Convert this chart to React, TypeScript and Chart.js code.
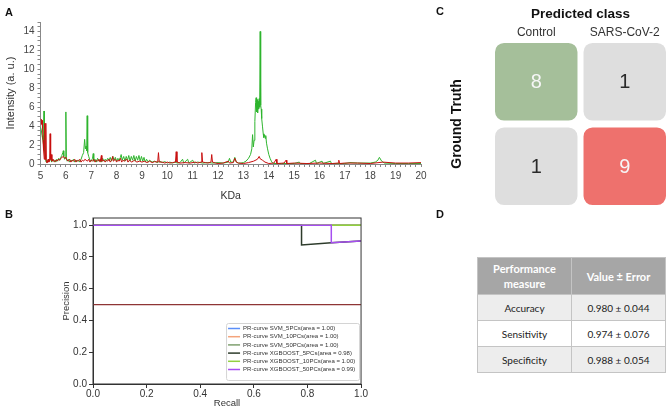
import React, { useEffect, useRef } from 'react';
import { Chart, registerables } from 'chart.js';

Chart.register(...registerables);
Chart.defaults.font.family = '"Liberation Sans", Arial, sans-serif';

// ---------------- Panel A: spectra ----------------
const kdaTickLabels = [5, 6, 7, 8, 9, 10, 11, 12, 13, 14, 15, 16, 17, 18, 19, 20];
const intensityTickLabels = [0, 2, 4, 6, 8, 10, 12, 14];

const controlKDa = [
  5.0, 5.03, 5.06, 5.09, 5.12, 5.14, 5.15, 5.18, 5.2, 5.22, 5.25, 5.28, 5.32, 5.36, 5.4, 5.44, 5.48, 5.52, 5.56, 5.6,
  5.64, 5.68, 5.72, 5.76, 5.8, 5.84, 5.88, 5.9, 5.92, 5.95, 5.98, 6.0, 6.02, 6.05, 6.1, 6.15, 6.2, 6.25, 6.3, 6.35,
  6.4, 6.45, 6.5, 6.55, 6.6, 6.65, 6.7, 6.74, 6.77, 6.8, 6.82, 6.84, 6.86, 6.9, 6.95, 7.0, 7.05, 7.08, 7.1, 7.15,
  7.2, 7.25, 7.3, 7.35, 7.4, 7.45, 7.5, 7.55, 7.6, 7.65, 7.7, 7.75, 7.8, 7.85, 7.9, 7.95, 8.0, 8.05, 8.1, 8.15,
  8.18, 8.22, 8.28, 8.33, 8.38, 8.43, 8.48, 8.53, 8.58, 8.63, 8.68, 8.73, 8.78, 8.83, 8.88, 8.93, 8.98, 9.03, 9.08, 9.13,
  9.18, 9.25, 9.3, 9.4, 9.5, 9.6, 9.7, 9.8, 9.9, 10.0, 10.1, 10.2, 10.3, 10.4, 10.5, 10.6, 10.65, 10.8, 10.85, 11.0,
  11.05, 11.2, 11.4, 11.6, 11.8, 12.0, 12.2, 12.4, 12.45, 12.5, 12.6, 12.66, 12.72, 12.8, 12.9, 13.0, 13.1, 13.2, 13.28, 13.33,
  13.36, 13.39, 13.42, 13.45, 13.48, 13.5, 13.52, 13.54, 13.56, 13.58, 13.6, 13.62, 13.64, 13.66, 13.68, 13.7, 13.72, 13.75, 13.78, 13.8,
  13.83, 13.86, 13.88, 13.91, 13.95, 14.0, 14.05, 14.1, 14.15, 14.2, 14.5, 14.8, 15.0, 15.2, 15.25, 15.6, 15.84, 15.88, 16.1, 16.14,
  16.43, 16.47, 17.0, 17.2, 17.5, 18.0, 18.2, 18.3, 18.36, 18.45, 18.55, 19.0, 19.5, 20.0
];
const controlIntensity = [
  3.9, 3.6, 3.0, 2.6, 2.0, 5.6, 1.6, 1.0, 0.5, 0.2, 0.4, 0.2, 0.5, 0.3, 0.6, 0.2, 0.5, 0.3, 0.4, 0.2,
  0.5, 0.3, 0.6, 0.4, 0.7, 0.9, 1.2, 1.4, 0.8, 0.5, 0.6, 5.5, 0.6, 0.3, 0.5, 0.2, 0.4, 0.3, 0.5, 0.2,
  0.4, 0.3, 0.4, 0.2, 0.5, 0.9, 1.2, 2.6, 1.6, 1.9, 1.4, 5.1, 1.2, 0.8, 0.4, 0.3, 0.6, 1.1, 0.3, 0.5,
  0.2, 0.6, 0.3, 0.5, 0.2, 0.6, 0.3, 0.5, 0.3, 0.6, 0.4, 0.7, 0.3, 0.8, 0.4, 0.7, 0.3, 0.6, 0.4, 0.7,
  1.0, 0.4, 0.8, 0.3, 0.8, 0.4, 0.9, 0.3, 0.8, 0.4, 0.9, 0.3, 0.8, 0.4, 0.9, 0.3, 0.8, 0.3, 0.7, 0.2,
  0.5, 0.2, 0.4, 0.2, 0.3, 0.15, 0.3, 0.15, 0.25, 0.1, 0.2, 0.1, 0.2, 0.1, 0.15, 0.5, 0.1, 0.5, 0.1, 0.4,
  0.1, 0.2, 0.1, 0.15, 0.1, 0.15, 0.1, 0.2, 0.6, 0.2, 0.2, 0.7, 0.2, 0.1, 0.1, 0.15, 0.3, 0.6, 1.0, 1.6,
  3.1, 1.8, 2.5, 4.5, 6.5, 7.0, 5.5, 6.8, 5.4, 6.6, 5.8, 6.9, 6.0, 14.0, 6.2, 5.8, 4.8, 4.0, 3.2, 2.8,
  3.1, 2.7, 3.0, 2.2, 1.6, 1.0, 0.6, 0.3, 0.1, 0.05, 0.05, 0.05, 0.05, 0.2, 0.05, 0.05, 0.4, 0.05, 0.3, 0.05,
  0.3, 0.05, 0.05, 0.15, 0.1, 0.1, 0.2, 0.4, 0.7, 0.3, 0.1, 0.05, 0.05, 0.05
];

const covidKDa = [
  5.0, 5.02, 5.04, 5.06, 5.08, 5.1, 5.12, 5.15, 5.17, 5.19, 5.21, 5.23, 5.26, 5.3, 5.33, 5.36, 5.38, 5.4, 5.42, 5.45,
  5.5, 5.55, 5.6, 5.65, 5.7, 5.75, 5.8, 5.85, 5.9, 5.95, 6.0, 6.05, 6.1, 6.15, 6.2, 6.25, 6.3, 6.35, 6.4, 6.45,
  6.5, 6.55, 6.6, 6.65, 6.7, 6.75, 6.8, 6.85, 6.9, 6.95, 7.0, 7.05, 7.1, 7.15, 7.2, 7.25, 7.3, 7.35, 7.4, 7.42,
  7.5, 7.55, 7.6, 7.65, 7.7, 7.75, 7.8, 7.85, 7.87, 7.95, 8.0, 8.05, 8.1, 8.15, 8.2, 8.25, 8.3, 8.4, 8.45, 8.5,
  8.6, 8.7, 8.8, 8.9, 9.0, 9.1, 9.2, 9.3, 9.4, 9.5, 9.62, 9.65, 9.68, 9.8, 9.9, 10.0, 10.1, 10.2, 10.32, 10.35,
  10.38, 10.5, 10.7, 10.9, 11.1, 11.2, 11.33, 11.36, 11.39, 11.5, 11.6, 11.72, 11.75, 11.78, 11.9, 12.0, 12.2, 12.4, 12.45, 12.6,
  12.66, 12.72, 12.8, 13.0, 13.2, 13.4, 13.55, 13.62, 13.66, 13.75, 13.85, 14.0, 14.2, 14.29, 14.32, 14.6, 14.68, 14.71, 15.0, 15.5,
  16.0, 16.5, 16.73, 16.76, 16.79, 17.0, 17.5, 18.0, 18.5, 19.0, 19.5, 20.0
];
const covidIntensity = [
  4.8, 4.7, 4.2, 4.6, 3.8, 2.5, 1.5, 0.5, 4.3, 0.5, 4.3, 0.3, 0.1, 0.5, 0.2, 0.4, 3.2, 0.5, 1.0, 0.3,
  0.5, 0.2, 0.4, 0.3, 0.5, 0.4, 0.6, 0.7, 0.8, 0.6, 0.7, 0.4, 0.3, 0.5, 0.2, 0.4, 0.3, 0.5, 0.2, 0.4,
  0.3, 0.5, 0.2, 0.4, 0.3, 0.5, 0.4, 0.3, 0.5, 0.2, 0.4, 0.3, 0.5, 0.2, 0.4, 0.3, 0.5, 0.2, 0.9, 0.3,
  0.4, 0.2, 0.4, 0.3, 0.5, 0.2, 0.4, 0.8, 0.3, 0.5, 0.2, 0.4, 0.3, 0.6, 0.2, 0.4, 0.3, 0.5, 0.2, 0.4,
  0.2, 0.4, 0.2, 0.3, 0.2, 0.3, 0.15, 0.3, 0.15, 0.25, 0.2, 1.2, 0.2, 0.2, 0.1, 0.2, 0.1, 0.15, 0.2, 1.3,
  0.2, 0.1, 0.15, 0.1, 0.2, 0.1, 0.2, 1.2, 0.2, 0.15, 0.1, 0.2, 1.0, 0.2, 0.1, 0.05, 0.1, 0.3, 0.1, 0.15,
  0.6, 0.2, 0.1, 0.05, 0.15, 0.3, 0.5, 0.8, 0.55, 0.4, 0.2, 0.05, 0.1, 0.5, 0.05, 0.1, 0.4, 0.05, 0.1, 0.05,
  0.1, 0.05, 0.1, 0.4, 0.05, 0.1, 0.1, 0.05, 0.2, 0.1, 0.1, 0.15
];

// ---------------- Panel B: precision-recall ----------------
const recallTickLabels = [0, 0.2, 0.4, 0.6, 0.8, 1.0];
const precisionTickLabels = [0, 0.2, 0.4, 0.6, 0.8, 1.0];
const prLabels = [
  'PR-curve SVM_5PCs(area = 1.00)',
  'PR-curve SVM_10PCs(area = 1.00)',
  'PR-curve SVM_50PCs(area = 1.00)',
  'PR-curve XGBOOST_5PCs(area = 0.98)',
  'PR-curve XGBOOST_10PCs(area = 1.00)',
  'PR-curve XGBOOST_50PCs(area = 0.99)',
];
const recallSvm5 = [0, 1];
const precisionSvm5 = [1, 1];
const recallSvm10 = [0, 1];
const precisionSvm10 = [1, 1];
const recallSvm50 = [0, 1];
const precisionSvm50 = [1, 1];
const recallXgb5 = [0, 0.778, 0.778, 0.889, 1];
const precisionXgb5 = [1, 1, 0.875, 0.889, 0.9];
const recallXgb10 = [0, 1];
const precisionXgb10 = [1, 1];
const recallXgb50 = [0, 0.889, 0.889, 1];
const precisionXgb50 = [1, 1, 0.889, 0.9];
const recallBaseline = [0, 1];
const precisionBaseline = [0.5, 0.5];

// ---------------- Panel C: confusion matrix ----------------
const predictedClasses = ['Control', 'SARS-CoV-2'];
const truthClasses = ['Control', 'SARS-CoV-2'];
const confusionCounts = [
  [8, 1],
  [1, 9],
];

// ---------------- Panel D: table ----------------
const measureNames = ['Accuracy', 'Sensitivity', 'Specificity'];
const measureValues = ['0.980 ± 0.044', '0.974 ± 0.076', '0.988 ± 0.054'];

const pts = (xs: number[], ys: number[]) => xs.map((x, i) => ({ x, y: ys[i] }));

function ChartBox({ left, top, width, height, build }: any) {
  const ref = useRef<HTMLCanvasElement>(null);
  useEffect(() => {
    const chart = new Chart(ref.current as HTMLCanvasElement, build());
    return () => chart.destroy();
  }, []);
  return (
    <div style={{ position: 'absolute', left, top, width, height }}>
      <canvas ref={ref} width={width} height={height} style={{ width, height, display: 'block' }} />
    </div>
  );
}

function spectrumConfig(): any {
  return {
    type: 'line',
    data: {
      datasets: [
        { label: 'SARS-CoV-2', data: pts(covidKDa, covidIntensity), borderColor: '#c80f0f', borderWidth: 1, pointRadius: 0, order: 0 },
        { label: 'Control', data: pts(controlKDa, controlIntensity), borderColor: '#2fb52f', borderWidth: 1, pointRadius: 0, order: 1 },
      ],
    },
    options: {
      animation: false,
      responsive: false,
      devicePixelRatio: 1,
      layout: { padding: { top: 22, right: 9, left: 0, bottom: 0 } },
      plugins: { legend: { display: false }, tooltip: { enabled: false } },
      scales: {
        x: {
          type: 'linear', min: 5, max: 20,
          afterBuildTicks: (s: any) => {
            const t: any[] = [];
            for (let i = 0; i < kdaTickLabels.length - 1; i++) {
              const a = kdaTickLabels[i], b = kdaTickLabels[i + 1];
              for (let k = 0; k < 5; k++) t.push({ value: a + (k * (b - a)) / 5 });
            }
            t.push({ value: kdaTickLabels[kdaTickLabels.length - 1] });
            s.ticks = t;
          },
          afterFit: (s: any) => { s.height = 41; },
          ticks: { autoSkip: false, maxRotation: 0, color: '#444', font: { size: 10 }, padding: 3,
            callback: (v: number) => (kdaTickLabels.includes(v) ? String(v) : '') },
          grid: { drawOnChartArea: false, tickLength: 3, color: '#888' },
          border: { color: '#888' },
          title: { display: true, text: 'KDa', color: '#333', font: { size: 10.5 }, padding: { top: 0, bottom: 3 } },
        },
        y: {
          type: 'linear', min: 0, max: 15,
          afterBuildTicks: (s: any) => {
            const t: any[] = [];
            for (let i = 0; i < intensityTickLabels.length - 1; i++) {
              const a = intensityTickLabels[i], b = intensityTickLabels[i + 1];
              for (let k = 0; k < 4; k++) t.push({ value: a + (k * (b - a)) / 4 });
            }
            t.push({ value: 14 }, { value: 14.5 }, { value: 15 });
            s.ticks = t;
          },
          afterFit: (s: any) => { s.width = 40.5; },
          ticks: { autoSkip: false, color: '#444', font: { size: 10 }, padding: 3,
            callback: (v: number) => (intensityTickLabels.includes(v) ? String(v) : '') },
          grid: { drawOnChartArea: false, tickLength: 3, color: '#888' },
          border: { color: '#888' },
          title: { display: true, text: 'Intensity (a. u.)', color: '#333', font: { size: 11 }, padding: { top: 4, bottom: 0 } },
        },
      },
    },
  };
}

const prColors = ['#5b8ff9', '#f4a47c', '#7fa06f', '#2d3b2b', '#92d040', '#a64ff0'];

const prLegendPlugin = {
  id: 'prLegend',
  afterDraw(chart: any) {
    const { ctx, chartArea } = chart;
    ctx.save();
    ctx.strokeStyle = '#333';
    ctx.lineWidth = 1;
    ctx.strokeRect(chartArea.left, chartArea.top, chartArea.right - chartArea.left, chartArea.bottom - chartArea.top);
    const w = 133, h = 57;
    const x0 = chartArea.right - 2 - w, y0 = chartArea.bottom - 4 - h;
    ctx.fillStyle = 'rgba(255,255,255,0.85)';
    ctx.strokeStyle = '#d4d4d4';
    ctx.beginPath();
    ctx.roundRect(x0 + 0.5, y0 + 0.5, w, h, 2);
    ctx.fill();
    ctx.stroke();
    ctx.font = '6px "Liberation Sans", Arial, sans-serif';
    ctx.textBaseline = 'middle';
    prLabels.forEach((label, i) => {
      const y = y0 + 5.5 + i * 8.2;
      ctx.strokeStyle = prColors[i];
      ctx.lineWidth = 1.5;
      ctx.beginPath();
      ctx.moveTo(x0 + 2, y);
      ctx.lineTo(x0 + 14, y);
      ctx.stroke();
      ctx.fillStyle = '#333';
      ctx.fillText(label, x0 + 17, y);
    });
    ctx.restore();
  },
};

function prConfig(): any {
  const recalls = [recallSvm5, recallSvm10, recallSvm50, recallXgb5, recallXgb10, recallXgb50];
  const precisions = [precisionSvm5, precisionSvm10, precisionSvm50, precisionXgb5, precisionXgb10, precisionXgb50];
  const drawOrder = [5, 4, 3, 2, 1, 0];
  const datasets: any[] = prLabels.map((label, i) => ({
    label,
    data: pts(recalls[i], precisions[i]),
    borderColor: prColors[i],
    borderWidth: 1.5,
    pointRadius: 0,
    order: drawOrder[i],
  }));
  datasets.push({ label: 'baseline', data: pts(recallBaseline, precisionBaseline), borderColor: '#8e3535', borderWidth: 1.3, pointRadius: 0, order: 6 });
  return {
    type: 'line',
    data: { datasets },
    plugins: [prLegendPlugin],
    options: {
      animation: false,
      responsive: false,
      devicePixelRatio: 1,
      layout: { padding: { top: 13, right: 5, left: 0, bottom: 0 } },
      plugins: { legend: { display: false }, tooltip: { enabled: false } },
      scales: {
        x: {
          type: 'linear', min: 0, max: 1,
          afterBuildTicks: (s: any) => { s.ticks = recallTickLabels.map((value) => ({ value })); },
          afterFit: (s: any) => { s.height = 24; },
          ticks: { autoSkip: false, maxRotation: 0, color: '#333', font: { size: 10 }, padding: 0,
            callback: (v: number) => v.toFixed(1) },
          grid: { drawOnChartArea: false, tickLength: 4, color: '#333' },
          border: { color: '#333' },
          title: { display: true, text: 'Recall', color: '#333', font: { size: 9.5 }, padding: { top: 0, bottom: -1.5 } },
        },
        y: {
          type: 'linear', min: 0, max: 1.045,
          afterBuildTicks: (s: any) => { s.ticks = precisionTickLabels.map((value) => ({ value })); },
          afterFit: (s: any) => { s.width = 43; },
          ticks: { autoSkip: false, color: '#333', font: { size: 10 }, padding: 2,
            callback: (v: number) => v.toFixed(1) },
          grid: { drawOnChartArea: false, tickLength: 4, color: '#333' },
          border: { color: '#333' },
          title: { display: true, text: 'Precision', color: '#333', font: { size: 9.5 }, padding: { top: 11, bottom: 0 } },
        },
      },
    },
  };
}

const cellGap = 0.041;
const cellColor = (r: number, c: number) => (r !== c ? '#dedede' : r === 0 ? '#a5bf9a' : '#ee716d');
const cellText = (r: number, c: number) => (r !== c ? '#2a2a2a' : '#f6f6f6');

const matrixPlugin = {
  id: 'matrixText',
  afterDatasetsDraw(chart: any) {
    const { ctx } = chart;
    ctx.save();
    ctx.textAlign = 'center';
    ctx.textBaseline = 'middle';
    truthClasses.forEach((_, r) => {
      const meta = chart.getDatasetMeta(r);
      meta.data.forEach((bar: any, c: number) => {
        ctx.fillStyle = cellText(r, c);
        ctx.font = '20px "Liberation Sans", Arial, sans-serif';
        ctx.fillText(String(confusionCounts[r][c]), bar.x, (bar.y + bar.base) / 2 + 1);
      });
      const y = chart.scales.y.getPixelForValue(r + 0.5);
      ctx.save();
      ctx.translate(480, y);
      ctx.rotate(-Math.PI / 2);
      ctx.fillStyle = '#333';
      ctx.font = '12px "Liberation Sans", Arial, sans-serif';
      ctx.fillText(truthClasses[r], 0, 0);
      ctx.restore();
    });
    ctx.restore();
  },
};

function matrixConfig(): any {
  return {
    type: 'bar',
    data: {
      labels: predictedClasses,
      datasets: truthClasses.map((t, r) => ({
        label: t,
        data: predictedClasses.map(() => [r + cellGap, r + 1 - cellGap]),
        backgroundColor: predictedClasses.map((_, c) => cellColor(r, c)),
        borderRadius: 9,
        borderSkipped: false,
        grouped: false,
        barPercentage: 0.932,
        categoryPercentage: 1,
      })),
    },
    plugins: [matrixPlugin],
    options: {
      animation: false,
      responsive: false,
      devicePixelRatio: 1,
      layout: { padding: { top: 0, right: 0, left: 0, bottom: 1.5 } },
      plugins: { legend: { display: false }, tooltip: { enabled: false } },
      scales: {
        x: {
          position: 'top',
          afterFit: (s: any) => { s.height = 39.5; },
          grid: { display: false, drawTicks: false },
          border: { display: false },
          ticks: { color: '#333', font: { size: 12 }, padding: 0, maxRotation: 0 },
          title: { display: true, text: 'Predicted class', color: '#111', font: { size: 13.5, weight: 'bold' }, padding: { top: 6, bottom: 0 } },
        },
        y: {
          type: 'linear', min: 0, max: 2, reverse: true,
          afterFit: (s: any) => { s.width = 52; },
          grid: { display: false, drawTicks: false },
          border: { display: false },
          ticks: { display: false },
          title: { display: true, text: 'Ground Truth', color: '#111', font: { size: 14, weight: 'bold' }, padding: { top: 8.6, bottom: 0 } },
        },
      },
    },
  };
}

const panelLabel: React.CSSProperties = {
  position: 'absolute',
  fontFamily: '"Liberation Sans", Arial, sans-serif',
  fontWeight: 700,
  fontSize: 11,
  color: '#111',
  lineHeight: '12px',
};

export default function App() {
  const cell: React.CSSProperties = { border: '1px solid #c4c4c4', padding: 0, height: 25, width: 93 };
  return (
    <div style={{ position: 'absolute', left: 0, top: 0, width: 669, height: 408, background: '#fff', overflow: 'hidden' }}>
      <ChartBox left={0} top={0} width={430} height={205} build={spectrumConfig} />
      <ChartBox left={50} top={205} width={318} height={203} build={prConfig} />
      <ChartBox left={440} top={0} width={229} height={210} build={matrixConfig} />
      <div style={{ ...panelLabel, left: 5, top: 6 }}>A</div>
      <div style={{ ...panelLabel, left: 5, top: 208 }}>B</div>
      <div style={{ ...panelLabel, left: 436, top: 5 }}>C</div>
      <div style={{ ...panelLabel, left: 436, top: 208 }}>D</div>
      <table
        style={{
          position: 'absolute', left: 477, top: 257, width: 186, borderCollapse: 'collapse',
          fontFamily: 'Lato, "Open Sans", sans-serif', fontSize: 10, color: '#222', textAlign: 'center',
          tableLayout: 'fixed',
        }}
      >
        <thead>
          <tr style={{ background: '#a6a6a6', color: '#fff' }}>
            <th style={{ ...cell, height: 36, fontSize: 11, lineHeight: '15px', fontWeight: 700 }}>Performance<br />measure</th>
            <th style={{ ...cell, height: 36, fontSize: 11, fontWeight: 700 }}>Value ± Error</th>
          </tr>
        </thead>
        <tbody>
          {measureNames.map((m, i) => (
            <tr key={m} style={{ background: i % 2 === 0 ? '#ededed' : '#ffffff' }}>
              <td style={cell}>{m}</td>
              <td style={cell}>{measureValues[i]}</td>
            </tr>
          ))}
        </tbody>
      </table>
    </div>
  );
}
